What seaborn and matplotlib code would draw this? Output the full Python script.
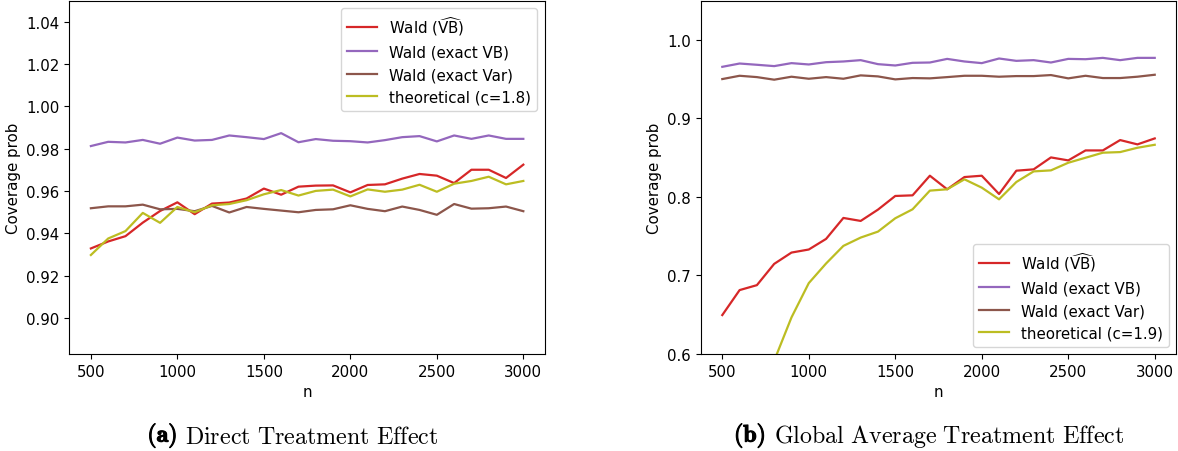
import numpy as np
import pandas as pd
import seaborn as sns
import matplotlib.pyplot as plt
import matplotlib.patheffects as pe

n_vals = list(range(500, 3001, 100))

# (a) direct treatment effect
direct_vb_hat = [0.9329, 0.9362, 0.9387, 0.9451, 0.9506, 0.9547, 0.9491, 0.9541, 0.9546, 0.9565,
                 0.9612, 0.9583, 0.9621, 0.9626, 0.9627, 0.9594, 0.9629, 0.9632, 0.9659, 0.9681,
                 0.9673, 0.9638, 0.9701, 0.9701, 0.9662, 0.9725]
direct_exact_vb = [0.9813, 0.9833, 0.9830, 0.9842, 0.9824, 0.9853, 0.9839, 0.9842, 0.9863, 0.9855,
                   0.9846, 0.9874, 0.9831, 0.9846, 0.9838, 0.9836, 0.9830, 0.9841, 0.9855, 0.9860,
                   0.9835, 0.9863, 0.9847, 0.9863, 0.9847, 0.9847]
direct_exact_var = [0.9519, 0.9528, 0.9528, 0.9536, 0.9514, 0.9516, 0.9505, 0.9530, 0.9499, 0.9525,
                    0.9516, 0.9508, 0.9500, 0.9511, 0.9514, 0.9533, 0.9516, 0.9505, 0.9527, 0.9511,
                    0.9488, 0.9539, 0.9517, 0.9519, 0.9527, 0.9505]
direct_theory = [0.9298, 0.9376, 0.9411, 0.9497, 0.9450, 0.9525, 0.9500, 0.9533, 0.9539, 0.9557,
                 0.9585, 0.9605, 0.9579, 0.9601, 0.9607, 0.9575, 0.9608, 0.9597, 0.9607, 0.9630,
                 0.9597, 0.9635, 0.9648, 0.9668, 0.9632, 0.9648]

# (b) global average treatment effect
global_vb_hat = [0.6496, 0.6814, 0.6877, 0.7148, 0.7292, 0.7331, 0.7466, 0.7733, 0.7695, 0.7839,
                 0.8013, 0.8021, 0.8271, 0.8098, 0.8254, 0.8271, 0.8038, 0.8335, 0.8352, 0.8504,
                 0.8466, 0.8593, 0.8593, 0.8725, 0.8670, 0.8746]
global_exact_vb = [0.9658, 0.9700, 0.9684, 0.9667, 0.9705, 0.9688, 0.9717, 0.9726, 0.9743, 0.9692,
                   0.9675, 0.9709, 0.9713, 0.9759, 0.9726, 0.9705, 0.9764, 0.9734, 0.9743, 0.9713,
                   0.9759, 0.9755, 0.9772, 0.9743, 0.9772, 0.9772]
global_exact_var = [0.9502, 0.9544, 0.9527, 0.9494, 0.9532, 0.9506, 0.9527, 0.9506, 0.9549, 0.9536,
                    0.9498, 0.9515, 0.9511, 0.9527, 0.9544, 0.9544, 0.9532, 0.9540, 0.9540, 0.9553,
                    0.9511, 0.9544, 0.9515, 0.9515, 0.9532, 0.9557]
global_theory = [0.40, 0.48, 0.54, 0.5915, 0.6466, 0.6903, 0.7153, 0.7377, 0.7483, 0.7559,
                 0.7729, 0.7843, 0.8081, 0.8098, 0.8225, 0.8119, 0.7970, 0.8191, 0.8326, 0.8339,
                 0.8436, 0.8500, 0.8564, 0.8572, 0.8627, 0.8665]

colors = ['#d62728', '#9467bd', '#8c564b', '#bcbd22']
fs = 10.8

fig = plt.figure(figsize=(11.78, 4.52), dpi=100)
ax1 = fig.add_axes([0.0588, 0.2146, 0.4038, 0.7816])
ax2 = fig.add_axes([0.5948, 0.2146, 0.4038, 0.7816])

panels = [
    (ax1, [direct_vb_hat, direct_exact_vb, direct_exact_var, direct_theory], 'theoretical (c=1.8)'),
    (ax2, [global_vb_hat, global_exact_vb, global_exact_var, global_theory], 'theoretical (c=1.9)'),
]
for ax, series, theo_label in panels:
    labels = [r'Wald ($\widehat{\mathrm{VB}}$)', 'Wald (exact VB)', 'Wald (exact Var)', theo_label]
    for vals, lab, col in zip(series, labels, colors):
        df = pd.DataFrame({'n': n_vals, 'cov': vals})
        sns.lineplot(data=df, x='n', y='cov', ax=ax, color=col, label=lab, linewidth=1.6)
    ax.set_xlabel('n', fontsize=fs)
    ax.set_ylabel('Coverage prob', fontsize=fs)
    ax.set_xticks([500, 1000, 1500, 2000, 2500, 3000])
    ax.tick_params(labelsize=fs)

ax1.set_ylim(0.883, 1.05)
ax1.set_yticks(np.arange(0.90, 1.041, 0.02))
ax1.yaxis.set_major_formatter(plt.FormatStrFormatter('%.2f'))
ax2.set_ylim(0.6, 1.05)
ax2.set_yticks([0.6, 0.7, 0.8, 0.9, 1.0])
ax2.yaxis.set_major_formatter(plt.FormatStrFormatter('%.1f'))

ax1.legend(loc='upper right', fontsize=fs)
ax2.legend(loc='lower right', fontsize=fs)

# captions: bold tag + roman text, centred together under each panel
renderer = fig.canvas.get_renderer()
for cx, tag, body in [(293, '(a)', r'Direct\ Treatment\ Effect'),
                      (929, '(b)', r'Global\ Average\ Treatment\ Effect')]:
    t1 = fig.text(0, 0.034, r'$\mathbf{%s}$' % tag, fontsize=17.3, math_fontfamily='cm',
                  va='center', ha='left')
    t2 = fig.text(0, 0.034, r'$\mathrm{%s}$' % body, fontsize=17.3, math_fontfamily='cm',
                  va='center', ha='left')
    w1 = t1.get_window_extent(renderer).width
    w2 = t2.get_window_extent(renderer).width
    gap = 8
    x0 = cx - (w1 + gap + w2) / 2
    t1.set_x(x0 / 1178)
    t1.set_path_effects([pe.withStroke(linewidth=0.8, foreground='black')])
    t2.set_x((x0 + w1 + gap) / 1178)

fig.savefig('out.png', dpi=100)
